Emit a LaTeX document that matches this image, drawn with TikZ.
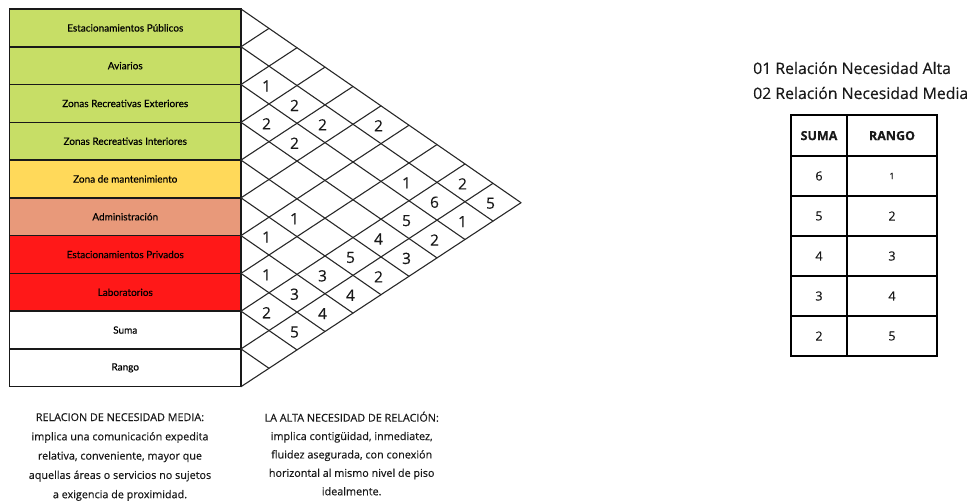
\documentclass[tikz,border=0pt]{standalone}
\usepackage{fontspec}
\setmainfont{Open Sans}[FakeBold=0.35]
\newfontfamily\labfont{Lato}[FakeBold=0.3]
\definecolor{cgreen}{RGB}{199,222,102}
\definecolor{cyellow}{RGB}{255,217,90}
\definecolor{csalmon}{RGB}{232,153,122}
\definecolor{cred}{RGB}{255,24,24}
\definecolor{ink}{RGB}{25,25,25}
\definecolor{gridc}{RGB}{40,40,40}
\tikzset{
  rowbox/.style={draw=ink, line width=1.5pt, minimum width=231.5pt, minimum height=37.77pt, inner sep=0pt, font=\labfont\fontsize{10}{11}\selectfont, text=black},
  gridline/.style={draw=gridc, line width=1.1pt, line cap=round},
  numtxt/.style={font=\fontsize{15.5}{17}\selectfont, text=ink, inner sep=0pt},
  tcell/.style={draw=black, line width=1.8pt, inner sep=0pt, font=\fontsize{12.5}{14}\selectfont, text=ink},
  legend/.style={anchor=west, inner sep=0pt, font=\fontsize{15.8}{18}\selectfont, text=ink},
  note/.style={align=center, inner sep=0pt, text=ink}
}
\begin{document}
\begin{tikzpicture}[x=1pt,y=-1pt]
\useasboundingbox (0,0) rectangle (978,502);
% row boxes
\foreach [count=\i from 0] \lbl/\col in {Estacionamientos Públicos/cgreen, Aviarios/cgreen, Zonas Recreativas Exteriores/cgreen, Zonas Recreativas Interiores/cgreen, Zona de mantenimiento/cyellow, Administración/csalmon, Estacionamientos Privados/cred, Laboratorios/cred, Suma/white, Rango/white}
  \node[rowbox, fill=\col] (r\i) at (125.25, {9+37.77*(\i+0.5)}) {\lbl};
% diamond grid
\begin{scope}[shift={(241,9)}, x={(28pt,-19.37pt)}, y={(0pt,-37.77pt)}]
  \foreach \k in {0,...,9} \draw[gridline] (0,\k) -- ({10-\k},\k);
  \foreach \m in {1,...,10} \draw[gridline] (0,\m) -- (\m,0);
  \foreach [count=\c] \a/\b/\n in {1/1/1, 2/1/2, 1/2/2, 3/1/2, 5/0/2, 2/2/2, 6/1/1, 8/0/2, 7/1/6, 9/0/5, 2/4/1, 6/2/5, 8/1/1, 1/5/1, 5/3/4, 7/2/2, 6/3/3, 4/4/5, 5/4/2, 1/6/1, 3/5/3, 4/5/4, 2/6/3, 3/6/4, 1/7/2, 2/7/5}
    \node[numtxt, xshift=-2.5pt, yshift=-1pt] (n\c) at (\a, {\b+0.5}) {\n};
\end{scope}
% legend
\node[legend] (l1) at (753,68) {01 Relación Necesidad Alta};
\node[legend] (l2) at (753,93) {02 Relación Necesidad Media};
% table
\node[tcell, minimum width=56.6pt, minimum height=40.7pt, font=\bfseries\fontsize{12.5}{14}\selectfont] (h1) at (819,135.65) {SUMA};
\node[tcell, minimum width=89.4pt, minimum height=40.7pt, font=\bfseries\fontsize{12.5}{14}\selectfont] (h2) at (892,135.65) {RANGO};
\foreach [count=\j from 0] \s/\r in {6/{\fontsize{9}{10}\selectfont 1}, 5/2, 4/3, 3/4, 2/5} {
  \node[tcell, minimum width=56.6pt, minimum height=40pt] (s\j) at (819, {176+40*\j}) {\s};
  \node[tcell, minimum width=89.4pt, minimum height=40pt] (k\j) at (892, {176+40*\j}) {\r};
}
% notes
\node[note, font=\fontsize{10.8}{19.3}\selectfont] (t1) at (120,457) {RELACION DE NECESIDAD MEDIA:\\implica una comunicación expedita\\relativa, conveniente, mayor que\\aquellas áreas o servicios no sujetos\\a exigencia de proximidad.};
\node[note, font=\fontsize{10.8}{18.4}\selectfont] (t2) at (351.7,453.5) {LA ALTA NECESIDAD DE RELACIÓN:\\implica contigüidad, inmediatez,\\fluidez asegurada, con conexión\\horizontal al mismo nivel de piso\\idealmente.};
\end{tikzpicture}
\end{document}
